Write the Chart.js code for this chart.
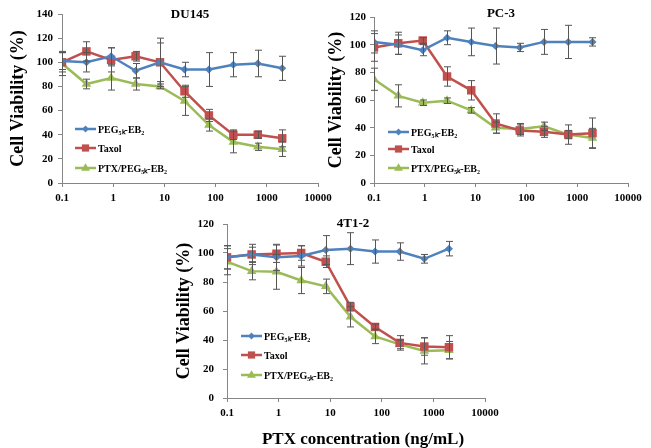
<!DOCTYPE html>
<html>
<head>
<meta charset="utf-8">
<script src="https://cdn.jsdelivr.net/npm/chart.js"></script>
<style>
  body { margin: 0; background: #fff; }
  #wrap { position: relative; width: 651px; height: 448px; overflow: hidden; }
  canvas { position: absolute; }
</style>
</head>
<body>
<div id="wrap">
  <canvas id="du145" width="340" height="205" style="left:0;top:0"></canvas>
  <canvas id="pc3" width="331" height="205" style="left:320px;top:0"></canvas>
  <canvas id="t412" width="347" height="243" style="left:160px;top:205px"></canvas>
</div>
<script>
// three-fold dilution series, ng/mL
const concentrations = [0.1, 0.3, 0.91, 2.74, 8.2, 24.7, 74, 222, 667, 2000];
const xTicks = [0.1, 1, 10, 100, 1000, 10000];
const seriesNames = ["PEG\u2085\u2096-EB\u2082", "Taxol", "PTX/PEG\u2085\u2096-EB\u2082"];

// DU145
const du145Peg = [101, 100, 105, 93, 100, 94, 94, 98, 99, 95];
const du145PegErr = [7, 8, 7, 6, 20, 6, 14, 10, 11, 10];
const du145Taxol = [100, 109, 102, 105, 100, 76, 56, 40, 40, 37];
const du145TaxolErr = [8, 8, 10, 4, 16, 5, 5, 4, 3, 7];
const du145Ptx = [99, 82, 87, 82, 80, 68, 48, 34, 30, 28];
const du145PtxErr = [10, 4, 10, 5, 2, 12, 5, 9, 3, 6];

// PC-3
const pc3Peg = [102, 100, 96, 105, 102, 99, 98, 102, 102, 102];
const pc3PegErr = [8, 7, 4, 5, 10, 13, 3, 9, 12, 3];
const pc3Taxol = [98, 101, 103, 77, 67, 43, 38, 37, 35, 36];
const pc3TaxolErr = [10, 8, 2, 7, 7, 7, 4, 4, 7, 11];
const pc3Ptx = [75, 63, 58, 59.5, 52.5, 40, 39, 41, 35, 32.5];
const pc3PtxErr = [8, 8, 2, 2, 2, 4, 4, 3, 3, 7];

// 4T1-2
const t412Peg = [97, 99, 97, 98, 102, 103, 101, 101, 96, 103];
const t412PegErr = [8, 7, 9, 7, 10, 11, 8, 6, 3, 5];
const t412Taxol = [97, 99, 99.5, 100, 94, 63, 49, 38, 35.5, 35];
const t412TaxolErr = [8, 5, 6, 5, 4, 3, 2, 5, 6, 8];
const t412Ptx = [94, 87.5, 87, 81, 77, 56, 42.5, 37, 32.5, 33];
const t412PtxErr = [9, 6, 12, 9, 5, 7, 5, 3, 9, 6];

const colors = ["#4F81BD", "#C0504D", "#9BBB59"];
const markers = ["rectRot", "rect", "triangle"];
const markerSize = [4, 6, 5.5];
const serif = "'Liberation Serif', 'Times New Roman', serif";
const axisGray = "#868686";

function drawMarker(ctx, kind, x, y, r, color) {
  ctx.fillStyle = color;
  ctx.beginPath();
  if (kind === "rectRot") {
    ctx.moveTo(x, y - r); ctx.lineTo(x + r, y); ctx.lineTo(x, y + r); ctx.lineTo(x - r, y);
  } else if (kind === "rect") {
    const s = r * Math.SQRT1_2;
    ctx.rect(x - s, y - s, 2 * s, 2 * s);
  } else {
    ctx.moveTo(x, y - r); ctx.lineTo(x + r * 0.95, y + r * 0.6); ctx.lineTo(x - r * 0.95, y + r * 0.6);
  }
  ctx.closePath();
  ctx.fill();
}

// error bars, in-plot legend, panel title and x axis title
const panelDecor = {
  id: "panelDecor",
  afterDatasetsDraw(chart, args, opts) {
    const ctx = chart.ctx;
    const xs = chart.scales.x, ys = chart.scales.y;
    ctx.save();
    ctx.strokeStyle = "#555";
    ctx.lineWidth = 1;
    chart.data.datasets.forEach((ds) => {
      ds.data.forEach((p, j) => {
        const e = ds.errors[j];
        const px = Math.round(xs.getPixelForValue(p.x)) + 0.5;
        const t = ys.getPixelForValue(p.y + e);
        const b = ys.getPixelForValue(p.y - e);
        ctx.beginPath();
        ctx.moveTo(px, t); ctx.lineTo(px, b);
        ctx.moveTo(px - 3.5, t); ctx.lineTo(px + 3.5, t);
        ctx.moveTo(px - 3.5, b); ctx.lineTo(px + 3.5, b);
        ctx.stroke();
      });
    });
    ctx.restore();
  },
  afterDraw(chart, args, opts) {
    const ctx = chart.ctx;
    const area = chart.chartArea;
    ctx.save();
    // legend
    chart.data.datasets.forEach((ds, i) => {
      const y = area.bottom - opts.legendRows[i];
      const x0 = area.left + opts.legendX;
      ctx.strokeStyle = ds.borderColor;
      ctx.lineWidth = 2.5;
      ctx.beginPath();
      ctx.moveTo(x0, y); ctx.lineTo(x0 + 21, y);
      ctx.stroke();
      drawMarker(ctx, markers[i], x0 + 10.5, y, markerSize[i] * 0.85, ds.borderColor);
      ctx.fillStyle = "#000";
      ctx.font = "bold 10px " + serif;
      ctx.textAlign = "left";
      ctx.textBaseline = "middle";
      ctx.fillText(ds.label, x0 + 23, y + 1);
    });
    // panel title
    ctx.fillStyle = "#000";
    ctx.font = "bold 13px " + serif;
    ctx.textAlign = "center";
    ctx.textBaseline = "middle";
    ctx.fillText(opts.title, opts.titleX, opts.titleY);
    if (opts.xTitle) {
      ctx.font = "bold 17px " + serif;
      ctx.fillText(opts.xTitle, opts.xTitleX, opts.xTitleY);
    }
    ctx.restore();
  }
};

function makeChart(id, peg, pegErr, taxol, taxolErr, ptx, ptxErr, cfg) {
  const values = [peg, taxol, ptx];
  const errs = [pegErr, taxolErr, ptxErr];
  const datasets = values.map((vals, i) => ({
    label: seriesNames[i],
    data: concentrations.map((c, j) => ({ x: c, y: vals[j] })),
    errors: errs[i],
    borderColor: colors[i],
    backgroundColor: colors[i],
    borderWidth: 2.5,
    pointStyle: markers[i],
    pointRadius: markerSize[i],
    pointBorderWidth: 0,
    pointHoverRadius: markerSize[i],
    tension: 0
  }));
  return new Chart(document.getElementById(id), {
    type: "line",
    data: { datasets },
    plugins: [panelDecor],
    options: {
      responsive: false,
      animation: false,
      events: [],
      layout: { padding: { top: cfg.top, right: cfg.right, left: 0, bottom: 0 } },
      plugins: {
        legend: { display: false },
        tooltip: { enabled: false },
        panelDecor: cfg.decor
      },
      scales: {
        x: {
          type: "logarithmic",
          min: 0.1,
          max: 10000,
          afterBuildTicks: (s) => { s.ticks = xTicks.map((v) => ({ value: v })); },
          afterFit: (s) => { s.height = cfg.xHeight; },
          ticks: {
            autoSkip: false,
            maxRotation: 0,
            padding: 5,
            color: "#000",
            font: { family: serif, size: 11, weight: "bold" },
            callback: (v) => String(v)
          },
          grid: { drawOnChartArea: false, drawTicks: true, tickLength: 4, color: axisGray },
          border: { color: axisGray, width: 1 }
        },
        y: {
          min: 0,
          max: cfg.yMax,
          afterFit: (s) => { s.width = cfg.yWidth; },
          ticks: {
            stepSize: 20,
            padding: cfg.yTickPad,
            color: "#000",
            font: { family: serif, size: 11, weight: "bold" }
          },
          title: {
            display: true,
            text: "Cell Viability (%)",
            color: "#000",
            font: { family: serif, size: 18, weight: "bold" },
            padding: { top: cfg.yTitlePad, bottom: 0 }
          },
          grid: { drawOnChartArea: false, drawTicks: true, tickLength: 4, color: axisGray },
          border: { color: axisGray, width: 1 }
        }
      }
    }
  });
}

makeChart("du145", du145Peg, du145PegErr, du145Taxol, du145TaxolErr, du145Ptx, du145PtxErr, {
  top: 14, right: 22, yWidth: 62, xHeight: 22, yMax: 140, yTitlePad: 8, yTickPad: 5,
  decor: { title: "DU145", titleX: 190, titleY: 15, legendX: 13, legendRows: [54, 35, 15] }
});

makeChart("pc3", pc3Peg, pc3PegErr, pc3Taxol, pc3TaxolErr, pc3Ptx, pc3PtxErr, {
  top: 17, right: 23, yWidth: 54, xHeight: 22, yMax: 120, yTitlePad: 6, yTickPad: 4,
  decor: { title: "PC-3", titleX: 181, titleY: 14, legendX: 14, legendRows: [51, 34, 15] }
});

makeChart("t412", t412Peg, t412PegErr, t412Taxol, t412TaxolErr, t412Ptx, t412PtxErr, {
  top: 19, right: 22, yWidth: 67, xHeight: 50, yMax: 120, yTitlePad: 14, yTickPad: 9,
  decor: { title: "4T1-2", titleX: 193, titleY: 19, legendX: 14, legendRows: [62, 43, 23],
           xTitle: "PTX concentration (ng/mL)", xTitleX: 203, xTitleY: 235 }
});
</script>
</body>
</html>
